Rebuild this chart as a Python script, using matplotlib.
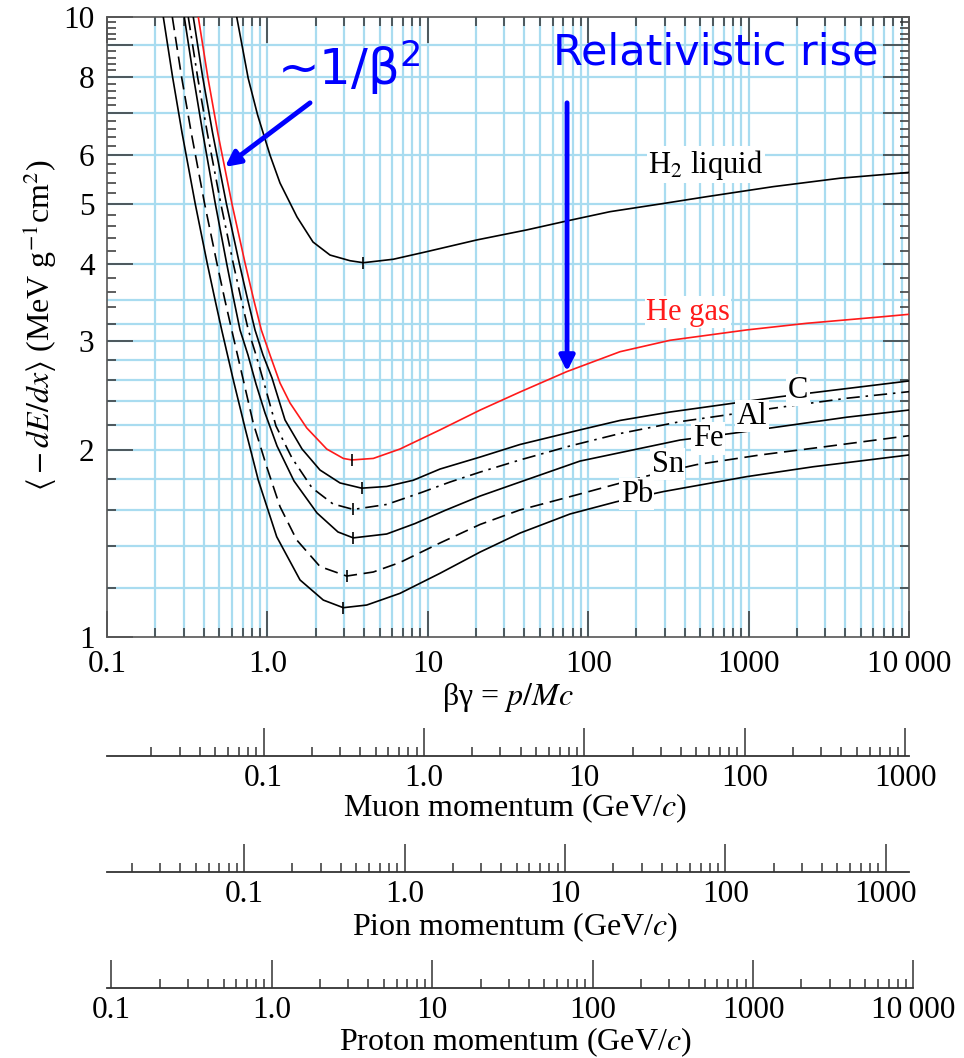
import matplotlib.pyplot as plt
from matplotlib.ticker import LogLocator, FixedLocator, FixedFormatter, NullFormatter

plt.rcParams['font.family'] = ['Liberation Serif', 'DejaVu Serif']
plt.rcParams['mathtext.fontset'] = 'stix'

# ---- values: beta*gamma vs <-dE/dx> (MeV g^-1 cm^2) ----
bg_h2 = [0.6439, 0.7591, 0.8688, 1.0411, 1.1985, 1.5294, 1.9243, 2.457, 3.273, 3.962,
         6.094, 9.843, 20.18, 41.36, 73.45, 136.8, 280.3, 548.1, 1426, 3713, 10000]
de_h2 = [10.0, 7.963, 6.950, 5.974, 5.398, 4.759, 4.336, 4.131, 4.045, 4.015,
         4.067, 4.183, 4.369, 4.535, 4.688, 4.853, 4.993, 5.131, 5.326, 5.495, 5.615]

bg_he = [0.3708, 0.4250, 0.4906, 0.6008, 0.7272, 0.8215, 0.9163, 1.038, 1.198, 1.383,
         1.758, 2.343, 2.973, 3.354, 4.573, 6.709, 11.92, 21.2, 37.56, 73.45,
         157.9, 323.6, 972.9, 2302, 6917, 10000]
de_he = [10.0, 8.0, 6.5, 5.0, 4.0, 3.5, 3.128, 2.850, 2.569, 2.385,
         2.174, 2.010, 1.941, 1.930, 1.941, 2.010, 2.158, 2.323, 2.484, 2.679,
         2.885, 3.010, 3.128, 3.206, 3.286, 3.315]

bg_c = [0.3451, 0.3949, 0.4554, 0.5551, 0.6691, 0.7535, 0.8369, 0.9389, 1.0683, 1.2875,
        1.6442, 2.128, 2.836, 3.870, 5.544, 8.122, 11.92, 21.2, 37.56, 88.9,
        157.9, 323.6, 1570, 10000]
de_c = [10.0, 8.0, 6.5, 5.0, 4.0, 3.5, 3.128, 2.850, 2.617, 2.239,
        2.010, 1.859, 1.772, 1.738, 1.749, 1.790, 1.866, 1.951, 2.044, 2.158,
        2.235, 2.306, 2.441, 2.588]

bg_al = [0.3212, 0.3672, 0.4220, 0.5122, 0.6130, 0.6874, 0.7600, 0.8490, 0.9524, 1.131,
         1.4233, 1.8972, 2.564, 3.432, 5.544, 8.94, 13.75, 21.2, 37.56, 77.0,
         157.9, 373.5, 799.2, 1570, 4089, 10000]
de_al = [10.0, 8.0, 6.5, 5.0, 4.0, 3.5, 3.128, 2.850, 2.569, 2.189,
         1.944, 1.740, 1.639, 1.606, 1.636, 1.707, 1.778, 1.845, 1.930, 2.033,
         2.129, 2.225, 2.289, 2.347, 2.427, 2.487]

bg_fe = [0.3033, 0.3462, 0.3955, 0.4733, 0.5576, 0.6173, 0.6750, 0.7568, 0.8490, 0.9663,
         1.148, 1.465, 2.038, 2.755, 3.432, 5.544, 8.323, 12.80, 21.2, 37.56,
         88.9, 373.5, 799.2, 1570, 4089, 10000]
de_fe = [10.0, 8.0, 6.5, 5.0, 4.0, 3.5, 3.128, 2.850, 2.559, 2.298,
         2.033, 1.785, 1.585, 1.477, 1.445, 1.466, 1.524, 1.600, 1.688, 1.778,
         1.922, 2.078, 2.131, 2.184, 2.262, 2.323]

bg_sn = [0.2554, 0.2918, 0.3354, 0.4059, 0.4851, 0.5425, 0.5990, 0.7074, 0.8168, 0.990,
         1.198, 1.523, 2.128, 3.122, 4.573, 6.709, 11.92, 21.2, 37.56, 77.0,
         143.4, 231.6, 474.7, 1178, 3068, 10000]
de_sn = [10.0, 8.0, 6.5, 5.0, 4.0, 3.5, 3.128, 2.597, 2.211, 1.882,
         1.623, 1.434, 1.299, 1.254, 1.273, 1.319, 1.418, 1.519, 1.603, 1.684,
         1.759, 1.818, 1.897, 1.966, 2.029, 2.112]

bg_pb = [0.2244, 0.2564, 0.2938, 0.3547, 0.4220, 0.4713, 0.5189, 0.6130, 0.7302, 0.8776,
         1.143, 1.597, 2.231, 2.973, 4.159, 6.709, 11.92, 21.2, 37.56, 77.0,
         150.5, 293.9, 972.9, 2532, 10000]
de_pb = [10.0, 8.0, 6.5, 5.0, 4.0, 3.5, 3.128, 2.597, 2.158, 1.790,
         1.451, 1.236, 1.147, 1.115, 1.126, 1.176, 1.267, 1.371, 1.471, 1.579,
         1.653, 1.716, 1.814, 1.882, 1.966]

# minimum-ionization marks (beta*gamma, dE/dx)
min_bg = [3.962, 3.354, 3.870, 3.432, 3.432, 3.122, 2.973]
min_de = [4.015, 1.930, 1.738, 1.606, 1.445, 1.254, 1.115]

# curve labels: text, beta*gamma, dE/dx
label_text = ['H$_2$ liquid', 'He gas', 'C', 'Al', 'Fe', 'Sn', 'Pb']
label_bg = [542, 419, 2030, 1050, 558, 314, 201]
label_de = [5.78, 3.34, 2.50, 2.27, 2.09, 1.90, 1.70]

# particle masses (GeV/c^2) for the momentum scales
m_muon = 0.10566
m_pion = 0.13957
m_proton = 0.93827

# ---- figure geometry (pixels of the reference image) ----
W, H = 964, 1058
X0, X1, Y0, Y1 = 107, 909, 17, 637
PX_PER_DECADE = (X1 - X0) / 5.0


def fx(px):
    return px / W


def fy(py):
    return 1 - py / H


fig = plt.figure(figsize=(W / 100, H / 100), dpi=100)
ax = fig.add_axes([fx(X0), fy(Y1), (X1 - X0) / W, (Y1 - Y0) / H])
ax.set_xscale('log')
ax.set_yscale('log')
ax.set_xlim(0.1, 10000)
ax.set_ylim(1, 10)

# light blue grid
grid_c = '#a9dcf0'
for dec in [0.1, 1, 10, 100, 1000]:
    for k in range(1, 10):
        if k == 1 and dec == 0.1:
            continue
        ax.axvline(dec * k, color=grid_c, lw=1.6, zorder=0)
grid_y = [1.2, 1.4, 1.6, 1.8, 2.0, 2.2, 2.4, 2.6, 2.8, 3.0, 3.2, 3.5, 4, 5, 6, 7, 8, 9]
for v in grid_y:
    ax.axhline(v, color=grid_c, lw=1.6, zorder=0)

# curves
lw = 1.2
red = '#ff1a1a'
ax.plot(bg_h2, de_h2, color='black', lw=lw, zorder=3)
ax.plot(bg_he, de_he, color=red, lw=lw, zorder=3)
ax.plot(bg_c, de_c, color='black', lw=lw, zorder=3)
ax.plot(bg_al, de_al, color='black', lw=lw, ls=(0, (8, 3.5, 1.5, 3.5)), zorder=3)
ax.plot(bg_fe, de_fe, color='black', lw=lw, zorder=3)
ax.plot(bg_sn, de_sn, color='black', lw=lw, ls=(0, (8, 4)), zorder=3)
ax.plot(bg_pb, de_pb, color='black', lw=lw, zorder=3)
ax.plot(min_bg, min_de, ls='none', marker='|', ms=8, mew=1.2, color='black', zorder=4)

# curve labels
box = dict(facecolor='white', edgecolor='none', pad=1.0)
for t, b, d in zip(label_text, label_bg, label_de):
    ax.text(b, d, t, fontsize=22, ha='center', va='center', bbox=box, zorder=5,
            color=red if t == 'He gas' else 'black')

# ticks
tick_fs = 22.5
ax.xaxis.set_major_locator(FixedLocator([0.1, 1, 10, 100, 1000, 10000]))
ax.xaxis.set_major_formatter(FixedFormatter(['0.1', '1.0', '10', '100', '1000', '10\u2009000']))
ax.xaxis.set_minor_locator(LogLocator(subs=range(2, 10), numticks=30))
ax.xaxis.set_minor_formatter(NullFormatter())
ax.yaxis.set_major_locator(FixedLocator(list(range(1, 11))))
ax.yaxis.set_major_formatter(FixedFormatter(['1', '2', '3', '4', '5', '6', '', '8', '', '10']))
ax.yaxis.set_minor_locator(FixedLocator([v / 10 for v in range(12, 100, 2) if v % 10]))
ax.yaxis.set_minor_formatter(NullFormatter())
ax.tick_params(which='both', direction='in', top=True, right=True,
               color='#333333', width=1.1, labelsize=tick_fs)
ax.tick_params(which='major', length=19)
ax.tick_params(which='minor', length=6.5)
ax.tick_params(axis='x', which='major', pad=9)
ax.tick_params(axis='y', which='major', pad=9)
for s in ax.spines.values():
    s.set_color('#555555')
    s.set_linewidth(1.2)

fig.text(fx(40), fy(325), r'$\langle -dE/dx\rangle$ (MeV g$^{-1}$cm$^2$)',
         rotation=90, ha='center', va='center', fontsize=23)
fig.text(fx(508), fy(698), 'βγ = $p/Mc$', ha='center', va='center', fontsize=23)

# blue annotations
blue = '#0000ff'
ax.text(0.212, 0.89, '~1/β$^2$', transform=ax.transAxes, fontsize=36,
        family='DejaVu Sans', math_fontfamily='dejavusans', color=blue,
        ha='left', va='baseline', zorder=6)
ax.text(0.556, 0.9226, 'Relativistic rise', transform=ax.transAxes, fontsize=31,
        family='DejaVu Sans', color=blue, ha='left', va='baseline', zorder=6)
arrow = dict(arrowstyle='-|>,head_length=0.9,head_width=0.45', color=blue,
             lw=3.5, shrinkA=0, shrinkB=0)
ax.annotate('', xy=(0.544, 5.73), xytext=(1.844, 7.27), arrowprops=arrow, zorder=6)
ax.annotate('', xy=(73.8, 2.68), xytext=(73.8, 7.27), arrowprops=arrow, zorder=6)


# ---- momentum scales ----
def momentum_axis(py, mass, right_px, labels, title, title_py):
    a = fig.add_axes([fx(X0), fy(py), (right_px - X0) / W, 0.0005])
    a.set_xscale('log')
    lo = 0.1 * mass
    a.set_xlim(lo, lo * 10 ** ((right_px - X0) / PX_PER_DECADE))
    a.patch.set_visible(False)
    a.yaxis.set_visible(False)
    for side in ['top', 'left', 'right']:
        a.spines[side].set_visible(False)
    a.spines['bottom'].set_color('#333333')
    a.spines['bottom'].set_linewidth(1.3)
    majors = [0.1, 1, 10, 100, 1000, 10000][:len(labels)]
    a.xaxis.set_major_locator(FixedLocator(majors))
    a.xaxis.set_major_formatter(FixedFormatter(labels))
    a.xaxis.set_minor_locator(LogLocator(subs=range(2, 10), numticks=30))
    a.xaxis.set_minor_formatter(NullFormatter())
    a.tick_params(which='both', direction='in', color='#333333', width=1.1,
                  labelsize=tick_fs)
    a.tick_params(which='major', length=20, pad=6)
    a.tick_params(which='minor', length=6.5)
    fig.text(fx(515), fy(title_py), title, ha='center', va='center', fontsize=23)
    return a


momentum_axis(756, m_muon, X1, ['0.1', '1.0', '10', '100', '1000'],
              'Muon momentum (GeV/$c$)', 808)
momentum_axis(872, m_pion, X1, ['0.1', '1.0', '10', '100', '1000'],
              'Pion momentum (GeV/$c$)', 927)
momentum_axis(988, m_proton, 913.5, ['0.1', '1.0', '10', '100', '1000', '10\u2009000'],
              'Proton momentum (GeV/$c$)', 1042)

fig.savefig('out.png', dpi=100)
